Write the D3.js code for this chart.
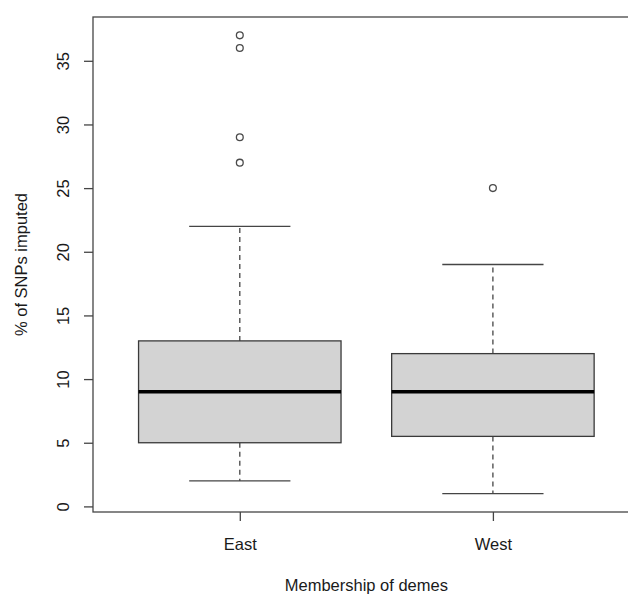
<!DOCTYPE html>
<html>
<head>
<meta charset="utf-8">
<script src="https://cdnjs.cloudflare.com/ajax/libs/d3/7.8.5/d3.min.js"></script>
<style>
  body { margin: 0; background: #fff; }
  svg { display: block; font-family: "Liberation Sans", Arial, sans-serif; }
</style>
</head>
<body>
<div id="chart"></div>
<script>
// boxplot stats
var groups = ['East', 'West'];
var whiskerLow = [2, 1];
var q1 = [5, 5.5];
var medians = [9, 9];
var q3 = [13, 12];
var whiskerHigh = [22, 19];
var outliersEast = [27, 29, 36, 37];
var outliersWest = [25];
var yTicks = [0, 5, 10, 15, 20, 25, 30, 35];

var width = 628, height = 595;
var fontSize = 16.5;
var lineCol = '#454545';

var svg = d3.select('#chart').append('svg')
  .attr('width', width)
  .attr('height', height);

// R style: xlim 0.5..2.5 and ylim range(data), both padded 4%
var x = d3.scaleLinear().domain([0.42, 2.58]).range([93, 639.7]);
var y = d3.scaleLinear().domain([-0.44, 38.44]).range([512, 17]);

var boxes = groups.map(function (g, i) {
  return {
    name: g,
    pos: i + 1,
    lo: whiskerLow[i],
    q1: q1[i],
    med: medians[i],
    q3: q3[i],
    hi: whiskerHigh[i],
    out: i === 0 ? outliersEast : outliersWest
  };
});

var halfBox = 0.4, halfCap = 0.2;

var g = svg.selectAll('.box')
  .data(boxes)
  .enter().append('g')
  .attr('class', 'box');

// dashed whiskers
g.append('line')
  .attr('x1', function (d) { return x(d.pos); })
  .attr('x2', function (d) { return x(d.pos); })
  .attr('y1', function (d) { return y(d.q3); })
  .attr('y2', function (d) { return y(d.hi); })
  .attr('stroke', lineCol).attr('stroke-width', 1.3)
  .attr('stroke-dasharray', '5,4');

g.append('line')
  .attr('x1', function (d) { return x(d.pos); })
  .attr('x2', function (d) { return x(d.pos); })
  .attr('y1', function (d) { return y(d.q1); })
  .attr('y2', function (d) { return y(d.lo); })
  .attr('stroke', lineCol).attr('stroke-width', 1.3)
  .attr('stroke-dasharray', '5,4');

// caps
['lo', 'hi'].forEach(function (k) {
  g.append('line')
    .attr('x1', function (d) { return x(d.pos - halfCap); })
    .attr('x2', function (d) { return x(d.pos + halfCap); })
    .attr('y1', function (d) { return y(d[k]); })
    .attr('y2', function (d) { return y(d[k]); })
    .attr('stroke', lineCol).attr('stroke-width', 1.3);
});

// the box
g.append('rect')
  .attr('x', function (d) { return x(d.pos - halfBox); })
  .attr('width', function (d) { return x(d.pos + halfBox) - x(d.pos - halfBox); })
  .attr('y', function (d) { return y(d.q3); })
  .attr('height', function (d) { return y(d.q1) - y(d.q3); })
  .attr('fill', '#d3d3d3')
  .attr('stroke', '#3a3a3a').attr('stroke-width', 1.3);

// median
g.append('line')
  .attr('x1', function (d) { return x(d.pos - halfBox); })
  .attr('x2', function (d) { return x(d.pos + halfBox); })
  .attr('y1', function (d) { return y(d.med); })
  .attr('y2', function (d) { return y(d.med); })
  .attr('stroke', '#000').attr('stroke-width', 3.5);

// outliers
g.selectAll('circle')
  .data(function (d) { return d.out.map(function (v) { return { pos: d.pos, v: v }; }); })
  .enter().append('circle')
  .attr('cx', function (d) { return x(d.pos); })
  .attr('cy', function (d) { return y(d.v); })
  .attr('r', 3.4)
  .attr('fill', 'none')
  .attr('stroke', '#4a4a4a').attr('stroke-width', 1.3);

// frame
svg.append('rect')
  .attr('x', x(0.42)).attr('y', y(38.44))
  .attr('width', x(2.58) - x(0.42))
  .attr('height', y(-0.44) - y(38.44))
  .attr('fill', 'none')
  .attr('stroke', lineCol).attr('stroke-width', 1.3);

// y axis, labels turned like R's default
var yAxis = svg.append('g')
  .attr('transform', 'translate(' + x(0.42) + ',0)')
  .call(d3.axisLeft(y).tickValues(yTicks).tickSize(9).tickSizeOuter(0));
yAxis.select('.domain').remove();
yAxis.selectAll('line').attr('stroke', lineCol).attr('stroke-width', 1.3);
yAxis.selectAll('text')
  .attr('transform', 'rotate(-90)')
  .attr('x', 0)
  .attr('y', -29.5)
  .attr('dy', '0.35em')
  .attr('text-anchor', 'middle')
  .attr('font-size', fontSize)
  .attr('font-family', 'Liberation Sans, Arial, sans-serif')
  .attr('fill', '#1a1a1a');

// x axis
var xAxis = svg.append('g')
  .attr('transform', 'translate(0,' + y(-0.44) + ')')
  .call(d3.axisBottom(x).tickValues([1, 2])
    .tickFormat(function (d) { return groups[d - 1]; })
    .tickSize(9).tickSizeOuter(0));
xAxis.select('.domain').remove();
xAxis.selectAll('line').attr('stroke', lineCol).attr('stroke-width', 1.3);
xAxis.selectAll('text')
  .attr('y', 26)
  .attr('dy', '0.71em')
  .attr('font-size', fontSize)
  .attr('font-family', 'Liberation Sans, Arial, sans-serif')
  .attr('fill', '#1a1a1a');

// axis titles
svg.append('text')
  .attr('x', (x(0.42) + x(2.58)) / 2)
  .attr('y', 591)
  .attr('text-anchor', 'middle')
  .attr('font-size', fontSize)
  .attr('fill', '#1a1a1a')
  .text('Membership of demes');

svg.append('text')
  .attr('transform', 'translate(27,' + (y(-0.44) + y(38.44)) / 2 + ') rotate(-90)')
  .attr('text-anchor', 'middle')
  .attr('font-size', fontSize)
  .attr('fill', '#1a1a1a')
  .text('% of SNPs imputed');
</script>
</body>
</html>
